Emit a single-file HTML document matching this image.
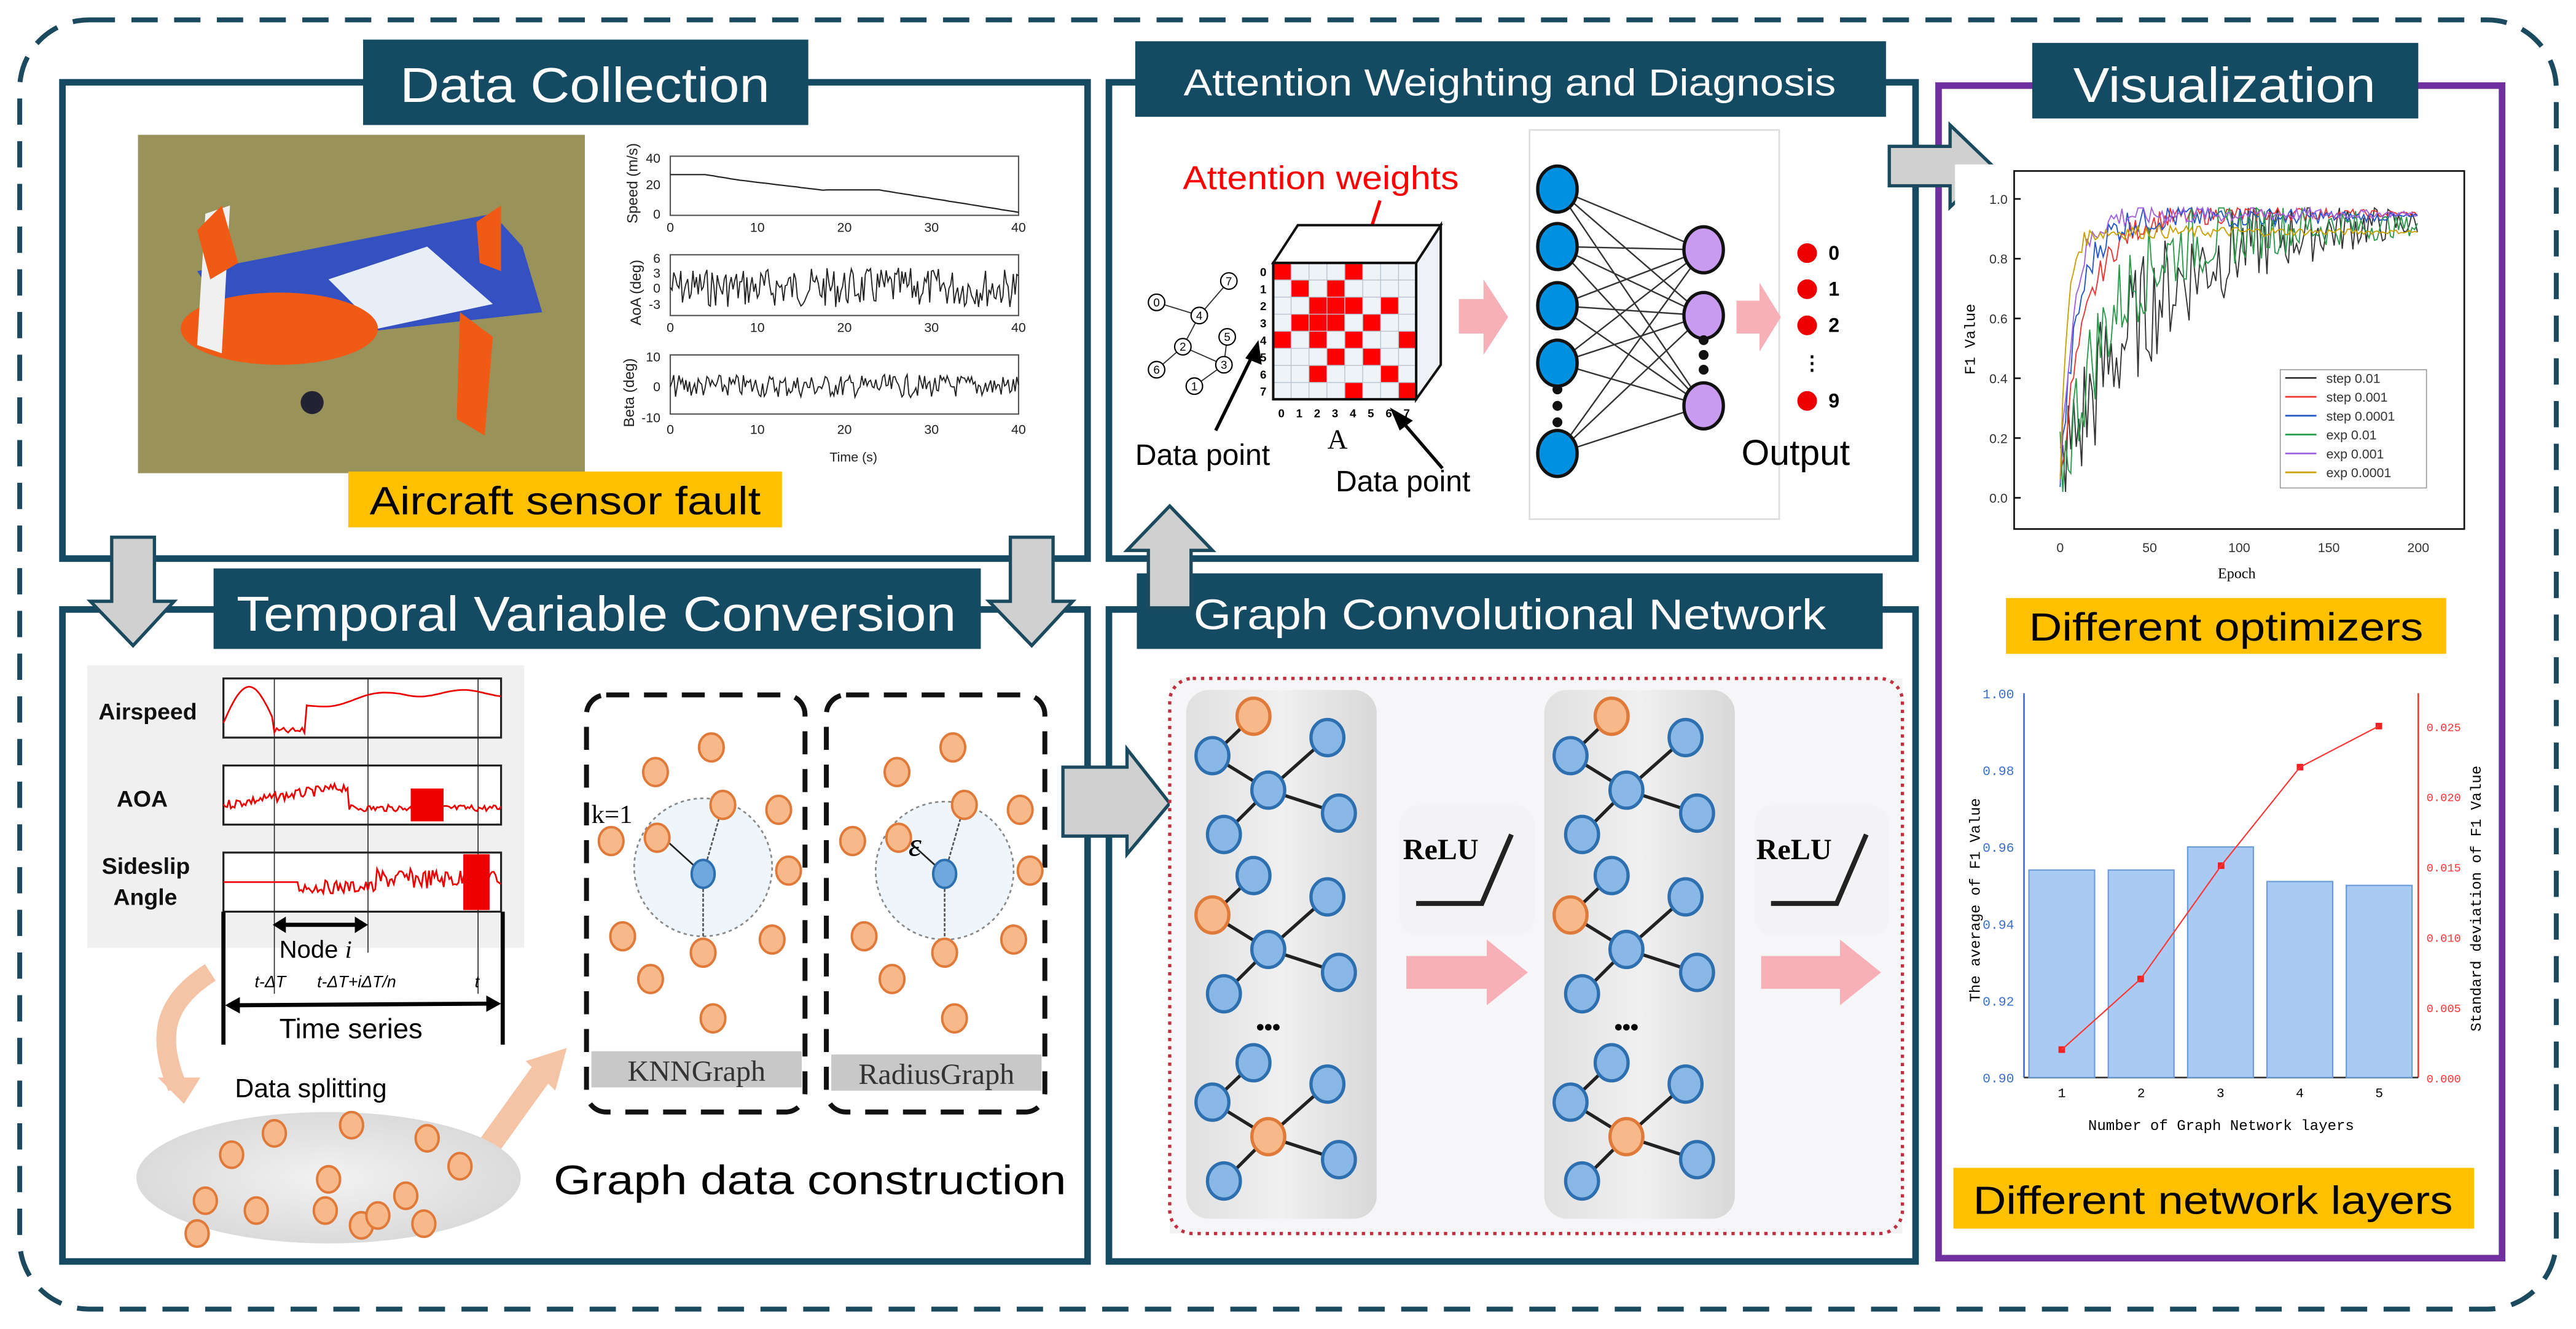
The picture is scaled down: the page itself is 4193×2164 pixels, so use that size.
<!DOCTYPE html>
<html><head><meta charset="utf-8"><style>
html,body{margin:0;padding:0;background:#fff;}
svg{display:block;}
text{font-family:"Liberation Sans",sans-serif;}
.t{fill:#fff;}
.ser{font-family:"Liberation Serif",serif;}
.mono{font-family:"Liberation Mono",monospace;}
</style></head><body>
<svg id="s" width="4193" height="2164" viewBox="0 0 1568 809" xmlns="http://www.w3.org/2000/svg">
<defs>
<radialGradient id="g1" cx="50%" cy="50%" r="60%"><stop offset="0" stop-color="#f2f2f2"/><stop offset="1" stop-color="#d6d6d6"/></radialGradient>
<linearGradient id="gp" x1="0" x2="1"><stop offset="0" stop-color="#e0e0e0"/><stop offset=".5" stop-color="#f0f0f0"/><stop offset="1" stop-color="#d8d8d8"/></linearGradient>
</defs>
<!-- outer dashed border -->
<rect x="12" y="12" width="1544" height="785" rx="42" fill="none" stroke="#1b4a5e" stroke-width="3" stroke-dasharray="16 10"/>

<!-- panels -->
<rect x="38" y="50" width="624" height="290" fill="none" stroke="#164a62" stroke-width="4"/>
<rect x="38" y="371" width="624" height="397" fill="none" stroke="#164a62" stroke-width="4"/>
<rect x="675" y="50" width="491" height="290" fill="none" stroke="#164a62" stroke-width="4"/>
<rect x="675" y="371" width="491" height="397" fill="none" stroke="#164a62" stroke-width="4"/>
<rect x="1180" y="52" width="343" height="714" fill="none" stroke="#7030a0" stroke-width="4"/>

<!-- titles -->
<rect x="221" y="24" width="271" height="52" fill="#154a63"/>
<text x="356" y="62" font-size="30" class="t" text-anchor="middle" textLength="225" lengthAdjust="spacingAndGlyphs">Data Collection</text>
<rect x="691" y="25" width="457" height="46" fill="#154a63"/>
<text x="919" y="58" font-size="23" class="t" text-anchor="middle" textLength="397" lengthAdjust="spacingAndGlyphs">Attention Weighting and Diagnosis</text>
<rect x="1237" y="26" width="235" height="46" fill="#154a63"/>
<text x="1354" y="62" font-size="30" class="t" text-anchor="middle" textLength="184" lengthAdjust="spacingAndGlyphs">Visualization</text>
<rect x="130" y="346" width="467" height="49" fill="#154a63"/>
<text x="363" y="384" font-size="30" class="t" text-anchor="middle" textLength="438" lengthAdjust="spacingAndGlyphs">Temporal Variable Conversion</text>
<rect x="692" y="349" width="454" height="46" fill="#154a63"/>
<text x="919" y="383" font-size="26" class="t" text-anchor="middle" textLength="385" lengthAdjust="spacingAndGlyphs">Graph Convolutional Network</text>

<!-- gray arrows -->
<g fill="#d0d0d0" stroke="#1b4a5e" stroke-width="2">
<polygon points="68,327 94,327 94,366 106,366 81,393 55,366 68,366"/>
<polygon points="615,327 641,327 641,366 653,366 628,393 602,366 615,366"/>
<polygon points="699,370 725,370 725,335 738,335 712,308 686,335 699,335"/>
<polygon points="647,467 686,467 686,456 712,489 686,520 686,509 647,509"/>
<polygon points="1150,89 1187,89 1187,76 1213,101 1187,126 1187,113 1150,113"/>
</g>

<!-- Data collection: photo -->
<rect x="84" y="82" width="272" height="206" fill="#8e8a52"/>
<rect x="84" y="82" width="272" height="206" fill="#a39a62" opacity=".5"/>
<g>
<polygon points="120,165 300,130 318,150 330,190 150,210" fill="#3550c0"/>
<polygon points="200,170 260,150 300,185 230,200" fill="#e8eef8"/>
<ellipse cx="170" cy="200" rx="60" ry="22" fill="#f05a14"/>
<polygon points="125,130 140,125 135,215 120,210" fill="#f0f0f0"/>
<polygon points="280,190 300,205 295,265 278,255" fill="#f05a14"/>
<polygon points="290,135 305,125 305,165 292,160" fill="#f05a14"/>
<polygon points="120,140 135,125 145,160 128,170" fill="#f05a14"/>
<circle cx="190" cy="245" r="7" fill="#223"/>
</g>
<!-- sensor charts -->
<g font-size="8" fill="#222">
<rect x="408" y="95" width="212" height="36" fill="none" stroke="#555" stroke-width=".8"/>
<rect x="408" y="155" width="212" height="37" fill="none" stroke="#555" stroke-width=".8"/>
<rect x="408" y="216" width="212" height="36" fill="none" stroke="#555" stroke-width=".8"/>
<g id="tk"></g>
<text x="0" y="0" transform="translate(388,136) rotate(-90)" font-size="9">Speed (m/s)</text>
<text x="0" y="0" transform="translate(390,198) rotate(-90)" font-size="9">AoA (deg)</text>
<text x="0" y="0" transform="translate(386,260) rotate(-90)" font-size="9">Beta (deg)</text>
<text x="402" y="99" text-anchor="end">40</text><text x="402" y="115" text-anchor="end">20</text><text x="402" y="133" text-anchor="end">0</text>
<text x="402" y="160" text-anchor="end">6</text><text x="402" y="169" text-anchor="end">3</text><text x="402" y="178" text-anchor="end">0</text><text x="402" y="188" text-anchor="end">-3</text>
<text x="402" y="220" text-anchor="end">10</text><text x="402" y="238" text-anchor="end">0</text><text x="402" y="257" text-anchor="end">-10</text>
<text x="505" y="281" font-size="8">Time (s)</text>
</g>
<polyline id="sp" fill="none" stroke="#222" stroke-width=".8"/>
<polyline id="aoa" fill="none" stroke="#222" stroke-width=".7"/>
<polyline id="beta" fill="none" stroke="#222" stroke-width=".7"/>
<rect x="212" y="287" width="264" height="34" fill="#ffc000"/>
<text x="344" y="313" font-size="24" text-anchor="middle" textLength="238" lengthAdjust="spacingAndGlyphs">Aircraft sensor fault</text>

<!-- Temporal: time series panel -->
<rect x="53" y="405" width="266" height="172" fill="#f0f0f0"/>
<g stroke="#222" fill="#fff" stroke-width="1.2">
<rect x="136" y="413" width="169" height="36"/>
<rect x="136" y="466" width="169" height="36"/>
<rect x="136" y="519" width="169" height="36"/>
</g>
<g stroke="#222" stroke-width=".6"><line x1="167" y1="413" x2="167" y2="605"/><line x1="224" y1="413" x2="224" y2="580"/><line x1="291" y1="413" x2="291" y2="605"/></g>
<polyline id="as" fill="none" stroke="#e00" stroke-width="1"/>
<polyline id="ao" fill="none" stroke="#e00" stroke-width="1"/>
<polyline id="ss" fill="none" stroke="#e00" stroke-width="1"/>
<rect x="250" y="480" width="20" height="20" fill="#e00"/>
<rect x="282" y="520" width="16" height="34" fill="#e00"/>
<g class="ser" font-weight="bold" font-size="14" fill="#111">
<text x="60" y="438">Airspeed</text><text x="71" y="491">AOA</text><text x="62" y="532">Sideslip</text><text x="69" y="551">Angle</text>
</g>
<g stroke="#000" stroke-width="2.5"><line x1="136" y1="555" x2="136" y2="636"/><line x1="306" y1="555" x2="306" y2="636"/></g>
<line x1="172" y1="563" x2="219" y2="563" stroke="#000" stroke-width="2.5"/>
<polygon points="166,563 174,558 174,568" /><polygon points="224,563 216,558 216,568"/>
<text x="170" y="583" font-size="15">Node <tspan font-style="italic" class="ser">i</tspan></text>
<g class="ser" font-style="italic" font-size="10"><text x="155" y="601">t-ΔT</text><text x="193" y="601">t-ΔT+iΔT/n</text><text x="289" y="601">t</text></g>
<line x1="142" y1="612" x2="300" y2="611" stroke="#000" stroke-width="2.5"/>
<polygon points="137,612 146,607 146,617"/><polygon points="305,611 296,606 296,616"/>
<text x="170" y="632" font-size="17">Time series</text>
<!-- data splitting -->
<path d="M128,592 C100,610 95,630 108,662" fill="none" stroke="#f5c4a6" stroke-width="12"/>
<polygon points="96,656 122,656 112,672" fill="#f5c4a6"/>
<path d="M296,700 L332,650" stroke="#f5c4a6" stroke-width="14"/>
<polygon points="320,646 345,638 338,664" fill="#f5c4a6"/>
<text x="143" y="668" font-size="16">Data splitting</text>
<ellipse cx="200" cy="717" rx="117" ry="40" fill="url(#g1)"/>
<g id="split" fill="#f7b98a" stroke="#e07a3a" stroke-width="1.5"></g>
<!-- graph construction -->
<rect x="357" y="423" width="133" height="254" rx="12" fill="#fff" stroke="#111" stroke-width="3" stroke-dasharray="14 9"/>
<rect x="503" y="423" width="133" height="254" rx="12" fill="#fff" stroke="#111" stroke-width="3" stroke-dasharray="14 9"/>
<rect x="360" y="640" width="128" height="22" fill="#c8c8c8"/>
<rect x="506" y="642" width="128" height="22" fill="#c8c8c8"/>
<text x="424" y="658" class="ser" font-size="18" fill="#333" text-anchor="middle">KNNGraph</text>
<text x="570" y="660" class="ser" font-size="18" fill="#333" text-anchor="middle">RadiusGraph</text>
<circle cx="428" cy="528" r="42" fill="#eef6fb" stroke="#888" stroke-dasharray="2 2"/>
<circle cx="575" cy="530" r="42" fill="#eef6fb" stroke="#888" stroke-dasharray="2 2"/>
<g id="graphs"></g>
<text x="360" y="501" class="ser" font-size="16">k=1</text>
<text x="553" y="521" class="ser" font-style="italic" font-size="20">ε</text>
<text x="337" y="727" font-size="25" textLength="312" lengthAdjust="spacingAndGlyphs">Graph data construction</text>

<!-- Attention -->
<text x="804" y="115" font-size="20" fill="#f00" text-anchor="middle" textLength="168" lengthAdjust="spacingAndGlyphs">Attention weights</text>
<line x1="840" y1="122" x2="830" y2="153" stroke="#f00" stroke-width="2"/>
<polygon points="824,150 836,152 828,162" fill="#f00"/>
<polygon points="775,160 790,137 877,137 862,160" fill="#fff" stroke="#111" stroke-width="1.5"/>
<polygon points="862,160 877,137 877,222 862,243" fill="#eef2f6" stroke="#111" stroke-width="1.5"/>
<g id="mat"></g>
<g class="ser" font-size="7" font-weight="bold" id="matlab"></g>
<text x="808" y="273" class="ser" font-size="17">A</text>
<g id="sg" font-size="7" fill="#000"></g>
<line x1="740" y1="262" x2="763" y2="215" stroke="#000" stroke-width="2"/><polygon points="766,207 768,222 758,218"/>
<line x1="878" y1="285" x2="853" y2="256" stroke="#000" stroke-width="2"/><polygon points="846,248 860,256 852,262"/>
<text x="691" y="283" font-size="18">Data point</text>
<text x="813" y="299" font-size="18">Data point</text>
<rect x="931" y="79" width="152" height="237" fill="#fff" stroke="#ddd"/>
<g id="nn"></g>
<polygon points="888,182 903,182 903,170 918,193 903,216 903,203 888,203" fill="#f7b0b8"/>
<polygon points="1057,183 1071,183 1071,172 1084,193 1071,214 1071,203 1057,203" fill="#f7b0b8"/>
<g fill="#e00"><circle cx="1100" cy="154" r="6"/><circle cx="1100" cy="176" r="6"/><circle cx="1100" cy="198" r="6"/><circle cx="1100" cy="244" r="6"/></g>
<g font-size="12" font-weight="bold"><text x="1113" y="158">0</text><text x="1113" y="180">1</text><text x="1113" y="202">2</text><text x="1113" y="248">9</text><text x="1097" y="225">⋮</text></g>
<text x="1060" y="283" font-size="22">Output</text>

<!-- GCN -->
<rect x="712" y="413" width="446" height="338" fill="#f2f2f2"/>
<rect x="712" y="413" width="446" height="338" rx="14" fill="#f6f6f8" stroke="#c03040" stroke-width="2" stroke-dasharray="2 3"/>
<rect x="722" y="420" width="116" height="322" rx="14" fill="url(#gp)"/>
<rect x="940" y="420" width="116" height="322" rx="14" fill="url(#gp)"/>
<rect x="852" y="490" width="82" height="80" rx="12" fill="#f3f3f5"/>
<rect x="1068" y="490" width="82" height="80" rx="12" fill="#f3f3f5"/>
<text x="854" y="523" class="ser" font-weight="bold" font-size="18">ReLU</text>
<text x="1069" y="523" class="ser" font-weight="bold" font-size="18">ReLU</text>
<polyline points="862,550 902,550 920,508" fill="none" stroke="#222" stroke-width="3"/>
<polyline points="1078,550 1118,550 1136,508" fill="none" stroke="#222" stroke-width="3"/>
<polygon points="856,582 905,582 905,572 930,592 905,612 905,602 856,602" fill="#f7b0b8"/>
<polygon points="1072,582 1120,582 1120,572 1145,592 1120,612 1120,602 1072,602" fill="#f7b0b8"/>
<g id="trees"></g>

<!-- Visualization: F1 chart -->
<rect x="1190" y="100" width="314" height="256" fill="#fff"/>
<rect x="1226" y="104" width="274" height="218" fill="none" stroke="#111" stroke-width="1"/>
<g class="mono" font-size="8" fill="#333" id="f1ax"></g>
<text x="0" y="0" transform="translate(1202,228) rotate(-90)" class="mono" font-size="9">F1 Value</text>
<text x="1350" y="352" class="ser" font-size="9">Epoch</text>
<g id="f1"></g>
<rect x="1388" y="225" width="89" height="72" fill="#fff" stroke="#999" stroke-width=".6"/>
<g class="mono" font-size="8" fill="#333" id="leg"></g>
<rect x="1221" y="364" width="268" height="34" fill="#ffc000"/>
<text x="1355" y="390" font-size="24" text-anchor="middle" textLength="240" lengthAdjust="spacingAndGlyphs">Different optimizers</text>

<!-- bar chart -->
<g id="bar"></g>
<rect x="1189" y="711" width="317" height="37" fill="#ffc000"/>
<text x="1347" y="739" font-size="24" text-anchor="middle" textLength="292" lengthAdjust="spacingAndGlyphs">Different network layers</text>
</svg>
<script>
var NS="http://www.w3.org/2000/svg",S=document.getElementById('s');
function el(p,t,a,txt){var e=document.createElementNS(NS,t);for(var k in a)e.setAttribute(k,a[k]);if(txt!=null)e.textContent=txt;(typeof p=='string'?document.getElementById(p):p).appendChild(e);return e;}
var seed=7;function r(){seed=(seed*9301+49297)%233280;return seed/233280;}
// sensor ticks
var tk='tk';[0,10,20,30,40].forEach(function(v,i){var x=408+i*53;[141,202,264].forEach(function(y){el(tk,'text',{x:x,y:y,'text-anchor':'middle'},String(v));});});
function pl(id,fn,n,x0,x1){var p=[];for(var i=0;i<=n;i++){var x=x0+(x1-x0)*i/n;p.push(x.toFixed(1)+','+fn(i/n).toFixed(1));}document.getElementById(id).setAttribute('points',p.join(' '));}
pl('sp',function(t){var v=t<.1?28:t<.2?28-(t-.1)*40:t<.45?24-(t-.2)*30:t<.6?17:17-(t-.6)*40;return 130-Math.max(v,1)*0.85;},80,408,620);
pl('aoa',function(t){return 175+(r()-.5)*24;},200,408,620);
pl('beta',function(t){return 235+(r()-.5)*14;},200,408,620);
pl('as',function(t){var x=t;if(x<.18)return 440-Math.sin(x*17)*22;if(x<.3)return 445+ (r()-.5)*4;return 430-8*Math.min(1,(x-.3)*3)+Math.sin(x*20)*2;},120,136,305);
pl('ao',function(t){if(t<.45)return 490-t*25+(r()-.5)*6;return 492+(r()-.5)*4;},150,136,305);
pl('ss',function(t){if(t<.27)return 537;if(t<.55)return 540+(r()-.5)*8;return 535+(r()-.5)*12;},150,136,305);
// split circles
[[125,731],[141,703],[167,690],[214,685],[260,693],[280,710],[200,718],[247,728],[120,751],[156,737],[220,746],[258,745],[198,737],[230,740]].forEach(function(c){el('split','ellipse',{cx:c[0],cy:c[1],rx:7,ry:8});});
// KNN/radius graphs
function gr(dx,lbl){var g=el('graphs','g',{});var o=[[399,470],[433,455],[440,490],[474,493],[372,512],[400,510],[480,530],[379,570],[428,580],[470,572],[396,596],[434,620]];
 el(g,'line',{x1:428+dx,y1:532,x2:440+dx,y2:490,stroke:'#555','stroke-dasharray':'2 1'});el(g,'line',{x1:428+dx,y1:532,x2:428+dx,y2:580,stroke:'#555','stroke-dasharray':'2 1'});
 el(g,'line',{x1:428+dx,y1:532,x2:406+dx,y2:512,stroke:'#222'});
 o.forEach(function(c){el(g,'ellipse',{cx:c[0]+dx,cy:c[1],rx:7.5,ry:8.5,fill:'#f7b98a',stroke:'#e07a3a','stroke-width':1.5});});
 el(g,'ellipse',{cx:428+dx,cy:532,rx:7,ry:8.5,fill:'#6fa8dc',stroke:'#2e6fb0','stroke-width':1.5});}
gr(0);gr(147);
// matrix
var red={0:[0,4],1:[1,3],2:[2,3,4,6],3:[1,2,3,5],4:[0,2,4,7],5:[3,5],6:[2,6],7:[4,7]};
for(var i=0;i<8;i++)for(var j=0;j<8;j++){el('mat','rect',{x:775+j*10.9,y:160+i*10.4,width:10.9,height:10.4,fill:red[i].indexOf(j)>=0?'#f00':'#eef3f8',stroke:'#b8c4d0','stroke-width':.5});}
el('mat','rect',{x:775,y:160,width:87,height:83,fill:'none',stroke:'#111','stroke-width':1.5});
for(var i=0;i<8;i++){el('matlab','text',{x:767,y:168+i*10.4},String(i));el('matlab','text',{x:778+i*10.9,y:254},String(i));}
// small graph
var sn={0:[704,184],4:[730,192],7:[748,171],5:[747,205],2:[720,211],3:[745,222],6:[704,225],1:[727,235]};
[[0,4],[4,7],[4,2],[2,6],[2,3],[3,5],[3,1]].forEach(function(e){el('sg','line',{x1:sn[e[0]][0],y1:sn[e[0]][1],x2:sn[e[1]][0],y2:sn[e[1]][1],stroke:'#333','stroke-width':.7});});
for(var k in sn){el('sg','circle',{cx:sn[k][0],cy:sn[k][1],r:5,fill:'#fff',stroke:'#000','stroke-width':.8});el('sg','text',{x:sn[k][0],y:sn[k][1]+2.5,'text-anchor':'middle'},k);}
// NN
var bl=[115,150,186,221,276],pu=[152,192,247];
bl.forEach(function(b){pu.forEach(function(p){el('nn','line',{x1:948,y1:b,x2:1037,y2:p,stroke:'#333','stroke-width':.9});});});
bl.forEach(function(b){el('nn','ellipse',{cx:948,cy:b,rx:12,ry:14,fill:'#0090e0',stroke:'#111','stroke-width':2});});
pu.forEach(function(p){el('nn','ellipse',{cx:1037,cy:p,rx:12,ry:14,fill:'#c89af0',stroke:'#111','stroke-width':2});});
[237,247,257].forEach(function(y){el('nn','circle',{cx:948,cy:y,r:3,fill:'#111'});});
[207,216,225].forEach(function(y){el('nn','circle',{cx:1037,cy:y,r:3,fill:'#111'});});
// trees
function tree(dx,dy,oi){var n=[[763,436],[808,449],[738,460],[772,481],[815,495],[745,508]];var E=[[0,2],[2,3],[1,3],[3,4],[3,5]];
 E.forEach(function(e){el('trees','line',{x1:n[e[0]][0]+dx,y1:n[e[0]][1]+dy,x2:n[e[1]][0]+dx,y2:n[e[1]][1]+dy,stroke:'#222','stroke-width':2});});
 n.forEach(function(c,i){var o=i==oi;el('trees','ellipse',{cx:c[0]+dx,cy:c[1]+dy,rx:10,ry:11,fill:o?'#f7b98a':'#8ab8e6',stroke:o?'#e07a3a':'#2e6fb0','stroke-width':2});});}
[0,218].forEach(function(dx){tree(dx,0,0);tree(dx,97,2);tree(dx,211,3);el('trees','text',{x:772+dx,y:630,'text-anchor':'middle','font-size':14,'font-weight':'bold'},'•••');});
// F1 axes
var x0=1254,xs=(1472-1254)/200,yb=303,ys=(303-121)/1.0;
[0,.2,.4,.6,.8,1.0].forEach(function(v){el('f1ax','text',{x:1222,y:yb-v*ys+3,'text-anchor':'end'},v.toFixed(1));el('f1ax','line',{x1:1226,y1:yb-v*ys,x2:1230,y2:yb-v*ys,stroke:'#111'});});
[0,50,100,150,200].forEach(function(v){el('f1ax','text',{x:x0+v*xs,y:336,'text-anchor':'middle'},String(v));});
var cols=['#333','#e33','#2255cc','#2a9a4a','#a060e0','#c8a000'],fin=[.93,.95,.94,.91,.95,.89],spd=[90,30,20,55,15,8],nz=[.25,.05,.06,.18,.05,.03];
cols.forEach(function(c,k){var p=[];for(var e=0;e<=200;e+=1.5){var base=.05+(fin[k]-.05)*(1-Math.exp(-e/(spd[k]/2)));var v=base+(r()-.5)*nz[k]*(1-e/240)*2;v=Math.max(0.02,Math.min(.97,v));p.push((x0+e*xs).toFixed(1)+','+(yb-v*ys).toFixed(1));}el('f1','polyline',{points:p.join(' '),fill:'none',stroke:c,'stroke-width':.7});});
['step 0.01','step 0.001','step 0.0001','exp 0.01','exp 0.001','exp 0.0001'].forEach(function(t,i){var y=233+i*11.5;el('leg','line',{x1:1391,y1:y-3,x2:1410,y2:y-3,stroke:cols[i]});el('leg','text',{x:1416,y:y},t);});
// bar chart
var b='bar';el(b,'rect',{x:1190,y:410,width:320,height:290,fill:'#fff'});
el(b,'line',{x1:1232,y1:422,x2:1232,y2:656,stroke:'#3a70d0'});el(b,'line',{x1:1472,y1:422,x2:1472,y2:656,stroke:'#f33'});el(b,'line',{x1:1232,y1:656,x2:1472,y2:656,stroke:'#333'});
[.9,.92,.94,.96,.98,1.0].forEach(function(v){var y=656-(v-.9)/.1*234;el(b,'text',{x:1226,y:y+3,'text-anchor':'end','font-size':8,fill:'#3a70d0',class:'mono'},v.toFixed(2));});
[0,.005,.01,.015,.02,.025].forEach(function(v){var y=656-v/.025*214;el(b,'text',{x:1477,y:y+3,'font-size':7,fill:'#f33',class:'mono'},v.toFixed(3));});
var bv=[.954,.954,.96,.951,.95];var pts=[];
bv.forEach(function(v,i){var cx=1255+i*48.3,y=656-(v-.9)/.1*234;el(b,'rect',{x:cx-20,y:y,width:40,height:656-y,fill:'#a9cbf3',stroke:'#6a9ad8','stroke-width':.8});el(b,'text',{x:cx,y:668,'text-anchor':'middle','font-size':8,class:'mono'},String(i+1));});
[[1255,639],[1303,596],[1352,527],[1400,467],[1448,442]].forEach(function(p){pts.push(p.join(','));el(b,'rect',{x:p[0]-2,y:p[1]-2,width:4,height:4,fill:'#e22'});});
el(b,'polyline',{points:pts.join(' '),fill:'none',stroke:'#f33','stroke-width':.8});
el(b,'text',{x:1352,y:688,'text-anchor':'middle','font-size':9,class:'mono'},'Number of Graph Network layers');
el(b,'text',{transform:'translate(1205,610) rotate(-90)','font-size':9,class:'mono'},'The average of F1 Value');
el(b,'text',{transform:'translate(1510,628) rotate(-90)','font-size':9,class:'mono'},'Standard deviation of F1 Value');
</script>
</body></html>
